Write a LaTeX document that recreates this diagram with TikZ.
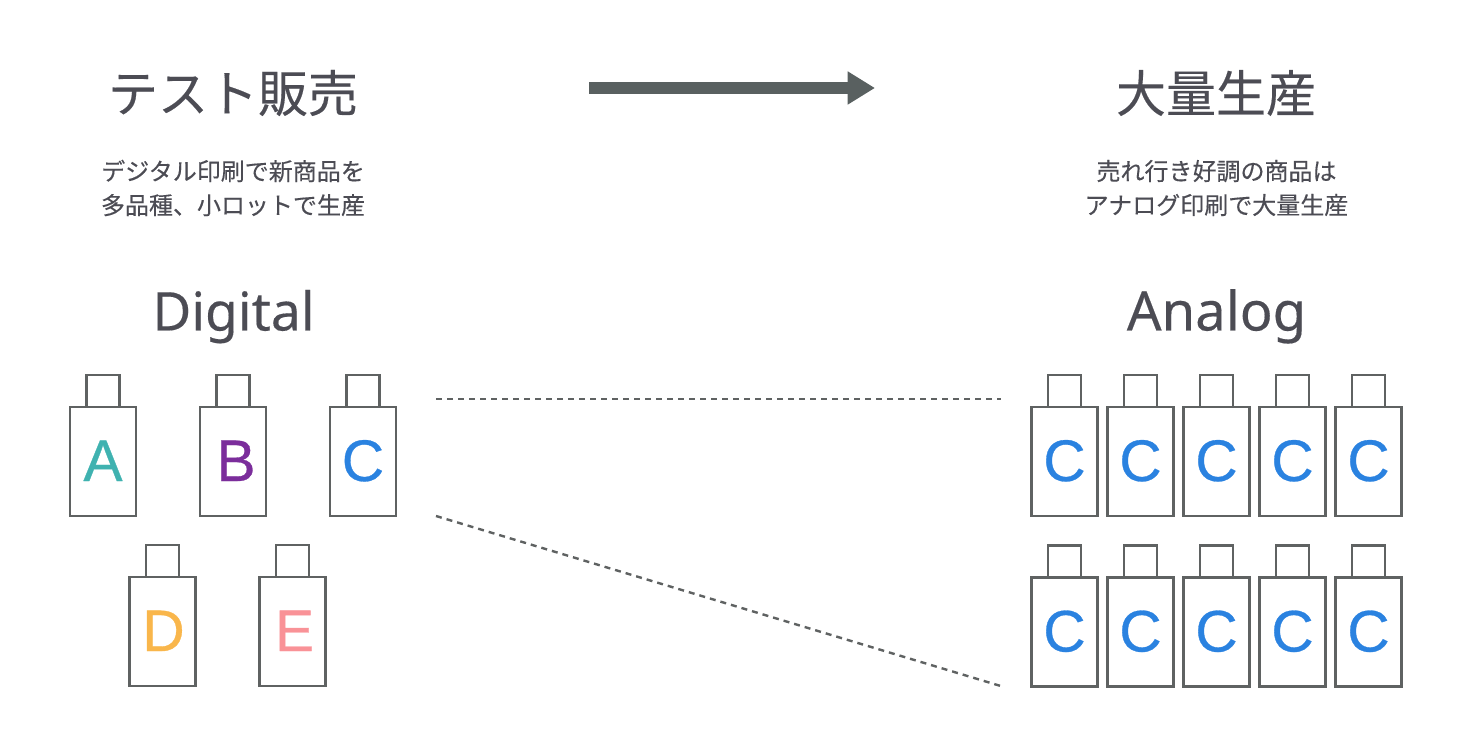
\documentclass[tikz,border=0pt]{standalone}
\usepackage{fontspec}
\setmainfont[FakeBold=0.5]{Liberation Sans}
\newfontfamily\latinfont[FakeBold=0.3]{Noto Sans}
\newfontfamily\cjk[FakeBold=0.3]{Noto Sans CJK JP}
\usetikzlibrary{arrows.meta}
\definecolor{txt}{HTML}{4C4C54}
\definecolor{line}{HTML}{5F6262}
\definecolor{arr}{HTML}{596060}
\definecolor{cA}{HTML}{3FB2B0}
\definecolor{cB}{HTML}{7B2D9B}
\definecolor{cC}{HTML}{2A82E0}
\definecolor{cD}{HTML}{F9B64B}
\definecolor{cE}{HTML}{F99297}
\tikzset{
  x=0.75pt,y=-0.75pt,
  bottlebody/.style={draw=line,line width=1.9pt,outer sep=0pt,minimum width=49.5pt,minimum height=81.5pt,inner sep=0pt,
    text height=31.5pt,text depth=2.25pt,font=\fontsize{44}{44}\selectfont},
  bottlecap/.style={draw=line,line width=1.9pt,outer sep=0pt,minimum width=25pt,minimum height=24pt,inner sep=0pt,anchor=south},
  title/.style={text=txt,inner sep=0pt,font=\fontsize{37.5}{37.5}\selectfont\cjk},
  sub/.style={text=txt,inner sep=0pt,align=center,font=\fontsize{18}{25.5}\selectfont\cjk},
  latin/.style={text=txt,inner sep=0pt,anchor=base,font=\fontsize{40}{40}\selectfont\latinfont},
  guide/.style={draw=line,line width=1.8pt,dash pattern=on 4.5pt off 3.75pt},
  bigarrow/.style={draw=arr,line width=9pt,-{Triangle[length=20.5pt,width=23.5pt]}},
}
\newcommand{\bottle}[5]{% name, x, y centre of body, colour, letter
  \node[bottlebody,text=#4] (#1) at (#2,#3) {#5};
  \node[bottlecap] (#1cap) at (#1.north) {};
}
\begin{document}
\begin{tikzpicture}
\useasboundingbox (0,0) rectangle (1468,752);
\node[title] (t1) at (233,93) {テスト販売};
\node[title] (t2) at (1216,93) {大量生産};
\node[sub] (s1) at (233,188) {デジタル印刷で新商品を\\多品種、小ロットで生産};
\node[sub] (s2) at (1216.5,188) {売れ行き好調の商品は\\アナログ印刷で大量生産};
\node[latin] (d) at (233.5,330.5) {Digital};
\node[latin,font=\fontsize{40.8}{40.8}\selectfont\latinfont] (an) at (1216.5,330.5) {Analog};
\coordinate (a1) at (589,88);
\coordinate (a2) at (875,88);
\draw[bigarrow] (a1) -- (a2);
\bottle{A}{103}{461.5}{cA}{A}
\bottle{B}{233}{461.5}{cB}{\hspace{4.5pt}B}
\bottle{C}{363}{461.5}{cC}{C}
\bottle{D}{162.5}{631.5}{cD}{\hspace{1.5pt}D}
\bottle{E}{292.5}{631.5}{cE}{\hspace{3pt}E}
\foreach \n/\px in {1/1064.5,2/1140.5,3/1216.5,4/1292.5,5/1368.5}{
  \bottle{T\n}{\px}{461.5}{cC}{C}
  \bottle{U\n}{\px}{632}{cC}{C}
}
\coordinate (g1) at (436,399);
\coordinate (g2) at (1001,399);
\coordinate (g3) at (436,516);
\coordinate (g4) at (1004,687);
\draw[guide] (g1) -- (g2);
\draw[guide] (g3) -- (g4);
\end{tikzpicture}
\end{document}
